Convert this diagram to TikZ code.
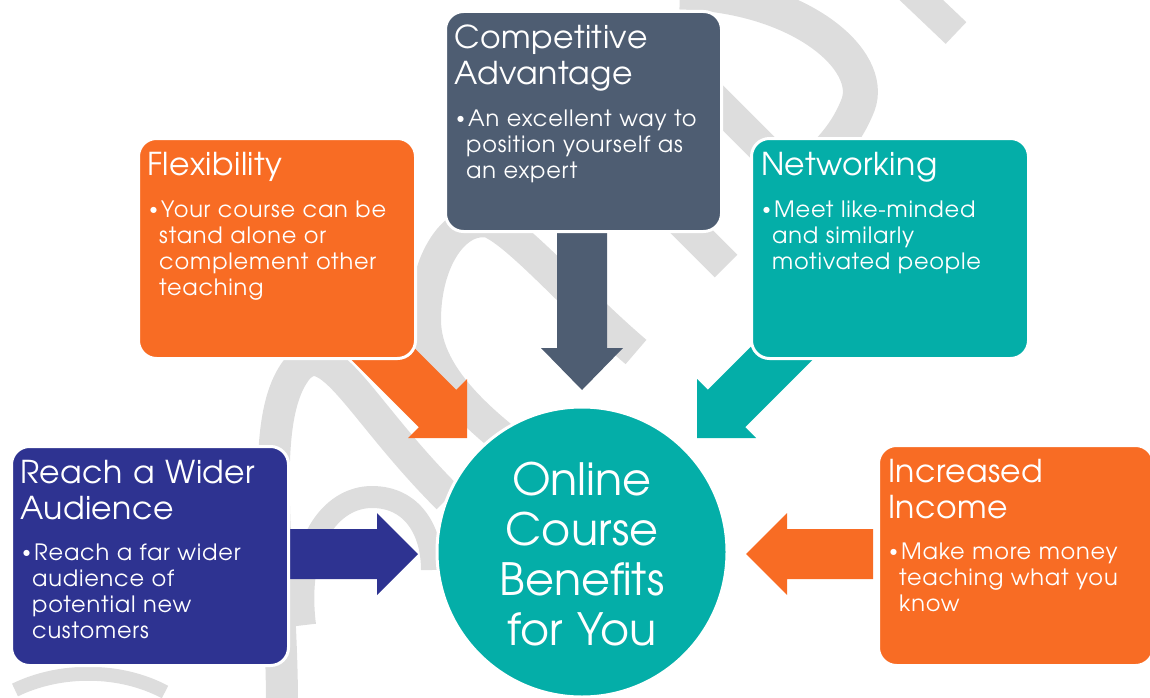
\documentclass[tikz,border=0pt]{standalone}
\usepackage{fontspec}
\setmainfont{texgyreadventor-regular.otf}
\newfontfamily\djv{DejaVu Sans}
\definecolor{orng}{HTML}{F86C24}
\definecolor{slate}{HTML}{4E5D72}
\definecolor{teal}{HTML}{04AEA8}
\definecolor{navy}{HTML}{2E3391}
\definecolor{wm}{HTML}{DDDDDD}
\tikzset{
  box/.style={draw=white, line width=3pt, rounded corners=18pt, minimum width=277pt, minimum height=220pt, inner sep=0pt, anchor=north west},
  ttl/.style={anchor=base west, inner sep=0pt, text=white, font=\fontsize{31.5}{36}\selectfont\addfontfeatures{LetterSpace=1.5}, text width=275pt, align=left},
  bul/.style={anchor=base west, inner sep=0pt, text=white, font=\fontsize{22.5}{26.3}\selectfont\addfontfeatures{LetterSpace=3.5}, text width=275pt, align=left},
  wmark/.style={draw=wm, line width=32pt},
}
\newcommand{\bdot}{\makebox[12pt][l]{\hspace{1pt}\raisebox{4.3pt}{\djv\fontsize{8}{8}\selectfont ●}}}
\newcommand{\bitem}[1]{\hangindent=10pt\hangafter=1\noindent\bdot#1\par}
\begin{document}
\begin{tikzpicture}[x=1pt,y=-1pt]
\useasboundingbox (0,0) rectangle (1150,698);
% watermark
\draw[wm, line width=30pt] (895,-25) -- (956,33);
\draw[wm, line width=35pt] (680,-8) .. controls (800,-5) and (875,60) .. (858,105) .. controls (850,125) and (840,140) .. (820,160);
\draw[wmark] (700,85) -- (775,160);
\draw[wmark] (650,190) -- (726,266);
\draw[wmark] (545,470) .. controls (490,430) and (425,380) .. (425,320) .. controls (425,260) and (455,215) .. (490,222) .. controls (520,235) and (575,300) .. (636,352);
\draw[wmark] (282,705) .. controls (282,560) and (255,420) .. (298,368) .. controls (330,335) and (360,410) .. (448,498);
\draw[wm, line width=22pt] (305,625) .. controls (295,545) and (330,497) .. (372,497) .. controls (412,497) and (432,530) .. (432,570);
\draw[wm, line width=14pt] (15,690) .. controls (60,668) and (120,668) .. (165,692);
% arrows
\fill[slate] (557,225) -- (607,225) -- (607,348) -- (623,348) -- (582,390) -- (541,348) -- (557,348) -- cycle;
\fill[navy] (290,529) -- (377,529) -- (377,513) -- (418,554) -- (377,595) -- (377,579) -- (290,579) -- cycle;
\fill[orng] (873,529) -- (787,529) -- (787,513) -- (746,554) -- (787,595) -- (787,579) -- (873,579) -- cycle;
\fill[orng] (385.5,319.1) -- (456.2,389.8) -- (467,379) -- (467,438) -- (408,438) -- (418.8,427.2) -- (348.1,356.5) -- cycle;
\fill[teal] (778.5,319.1) -- (707.8,389.8) -- (697,379) -- (697,438) -- (756,438) -- (745.2,427.2) -- (815.9,356.5) -- cycle;
% boxes
\node[box, fill=orng] (flex) at (137,137) {};
\node[box, fill=slate, minimum width=276pt] (comp) at (444,10) {};
\node[box, fill=teal] (net) at (750,137) {};
\node[box, fill=navy, minimum height=219pt] (reach) at (10,445) {};
\node[box, fill=orng, minimum width=275pt] (income) at (877,444) {};
\node[circle, fill=teal, draw=white, line width=3pt, minimum size=290pt, inner sep=0pt] (hub) at (582,552) {};
% texts
\node[ttl] (flexT) at (147,175) {Flexibility};
\node[bul] (flexB) at (149,217) {\bitem{Your course can be\newline stand alone or\newline complement other\newline teaching}};
\node[ttl] (compT) at (454,49) {Competitive\\Advantage};
\node[bul] (compB) at (456,126) {\bitem{An excellent way to\newline position yourself as\newline an expert}};
\node[ttl] (netT) at (761,175) {Networking};
\node[bul] (netB) at (762,217) {\bitem{Meet like-minded\newline and similarly\newline motivated people}};
\node[ttl] (reachT) at (20,483) {Reach a Wider\\Audience};
\node[bul] (reachB) at (22,560) {\bitem{Reach a far wider\newline audience of\newline potential new\newline customers}};
\node[ttl] (incT) at (888,482) {Increased\\Income};
\node[bul] (incB) at (889,559) {\bitem{Make more money\newline teaching what you\newline know}};
\node[anchor=base, inner sep=0pt, text=white, text width=300pt, align=center, font=\fontsize{44.5}{50}\selectfont] (hubT) at (582,495) {Online\\Course\\Benefits\\for You};
\end{tikzpicture}
\end{document}
